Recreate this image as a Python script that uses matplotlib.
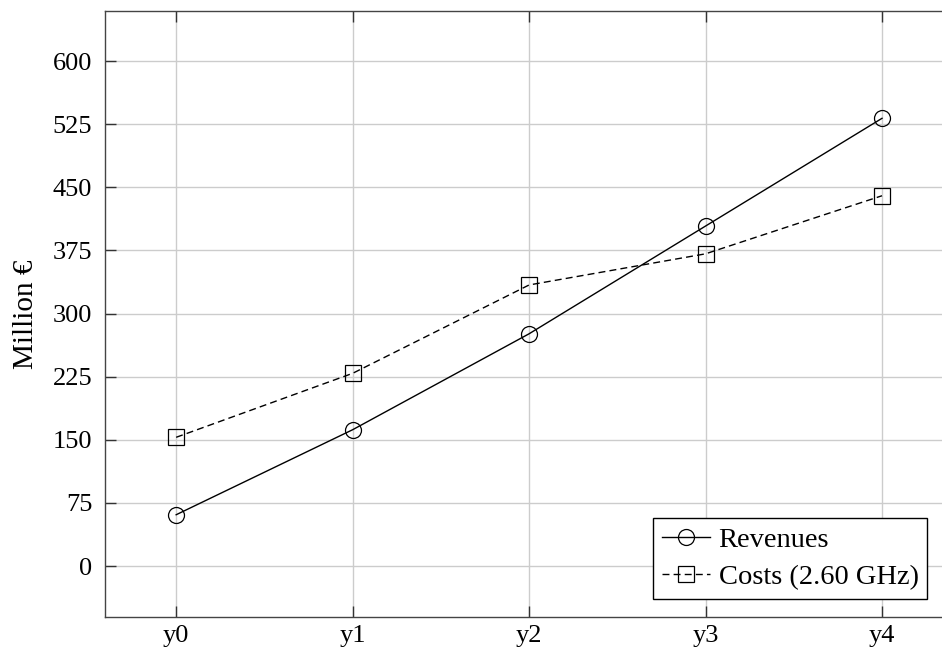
import matplotlib
matplotlib.use("Agg")
import matplotlib.pyplot as plt

categories = ["y0", "y1", "y2", "y3", "y4"]
revenues = [61, 162, 276, 404, 532]
costs = [153, 229, 334, 371, 440]
yticks = [0, 75, 150, 225, 300, 375, 450, 525, 600]

plt.rcParams['font.family'] = ['Liberation Serif', 'DejaVu Serif']

fig = plt.figure(figsize=(9.42, 6.52), dpi=100)
W, H = 942, 652
left_px, right_px, top_px, bot_px = 104.7, 952.6, 11, 617
ax = fig.add_axes([left_px / W, (H - bot_px) / H, (right_px - left_px) / W, (bot_px - top_px) / H])

x = list(range(len(categories)))
ax.plot(x, revenues, color='black', lw=1.0, marker='o', markersize=11.5,
        markerfacecolor='none', markeredgecolor='black', markeredgewidth=0.9,
        label='Revenues')
ax.plot(x, costs, color='black', lw=1.0, dashes=(5, 3), marker='s', markersize=11.5,
        markerfacecolor='none', markeredgecolor='black', markeredgewidth=0.9,
        label='Costs (2.60 GHz)')

ax.set_xlim(-0.405, 4.4)
ax.set_ylim(-60.5, 659.5)
ax.set_xticks(x)
ax.set_xticklabels(categories)
ax.set_yticks(yticks)
ax.set_yticklabels([str(v) for v in yticks])

ax.grid(True, color='#cccccc', lw=1.0)
ax.set_axisbelow(True)
for s in ax.spines.values():
    s.set_color('#444444')
    s.set_linewidth(1.0)
ax.spines['right'].set_visible(False)
ax.tick_params(direction='in', length=8, width=1.0, color='#333333',
               top=True, right=False, labelsize=19, pad=9)
ax.tick_params(axis='x', pad=6)

ax.set_ylabel('Million €', fontsize=21, labelpad=10)

leg = ax.legend(loc='lower right', bbox_to_anchor=(0.970, 0.030), borderaxespad=0,
                fontsize=20.5, frameon=True, fancybox=False, framealpha=1,
                edgecolor='black', handlelength=1.7, handletextpad=0.3,
                borderpad=0.3, labelspacing=0.4)
leg.get_frame().set_linewidth(1.0)

fig.savefig('out.png', dpi=100)
